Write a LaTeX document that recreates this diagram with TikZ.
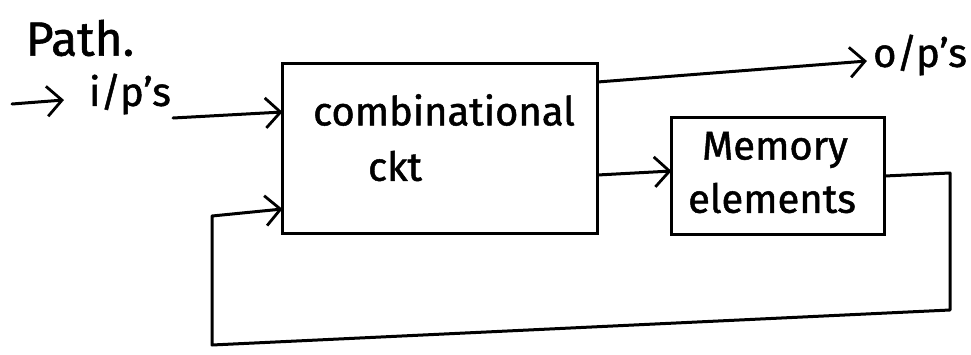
\documentclass[tikz,border=0pt]{standalone}
\usepackage{fontspec}
\setmainfont{Fira Sans}[FakeBold=1.2]
\usetikzlibrary{arrows.meta,calc}
\begin{document}
\begin{tikzpicture}[x=1pt,y=-1pt,
  wire/.style={line width=3pt, line cap=round, line join=round},
  flow/.style={wire, -{Straight Barb[length=15pt,width=30pt,line width=2.8pt]}},
  block/.style={draw, line width=3pt, inner sep=0pt, outer sep=0pt},
  lbl/.style={font=\fontsize{40}{48}\selectfont, inner sep=0pt},
  head/.style={font=\fontsize{48}{56}\selectfont, inner sep=0pt}]
  \useasboundingbox (0,0) rectangle (971,354);

  % heading
  \node[head] (title) at (80,38) {Path.};

  % blocks
  \node[block, minimum width=315pt, minimum height=170pt] (comb) at (440,148) {};
  \node[lbl] (combA) at (444,110) {combinational};
  \node[lbl] (combB) at (395,166) {ckt};

  \node[block, minimum width=213pt, minimum height=117pt] (mem) at (778,176) {};
  \node[lbl] (memA) at (775,150) {Memory};
  \node[lbl] (memB) at (772,198) {elements};

  % inputs and outputs
  \node[lbl] (ip) at (130,94) {i/p's};
  \node[lbl] (op) at (920,55) {o/p's};
  \coordinate (src) at (12,104);

  \draw[flow] (src) -- ($(ip.west)+(-25,6)$);
  \draw[flow] ($(ip.east)+(2,24)$) -- ($(comb.north west)+(0,49)$);
  \draw[flow] ($(comb.north east)+(0,19)$) -- ($(op.west)+(-6,6)$);
  \draw[flow] ($(comb.north east)+(0,112)$) -- ($(mem.west)+(0,-5)$);

  % feedback loop
  \coordinate (fbA) at (950,173);
  \coordinate (fbB) at (950,310);
  \coordinate (fbC) at (212,345);
  \coordinate (fbD) at (212,216);
  \draw[flow] (mem.east) -- (fbA) -- (fbB) -- (fbC) -- (fbD) -- ($(comb.south west)+(0,-24)$);
\end{tikzpicture}
\end{document}
